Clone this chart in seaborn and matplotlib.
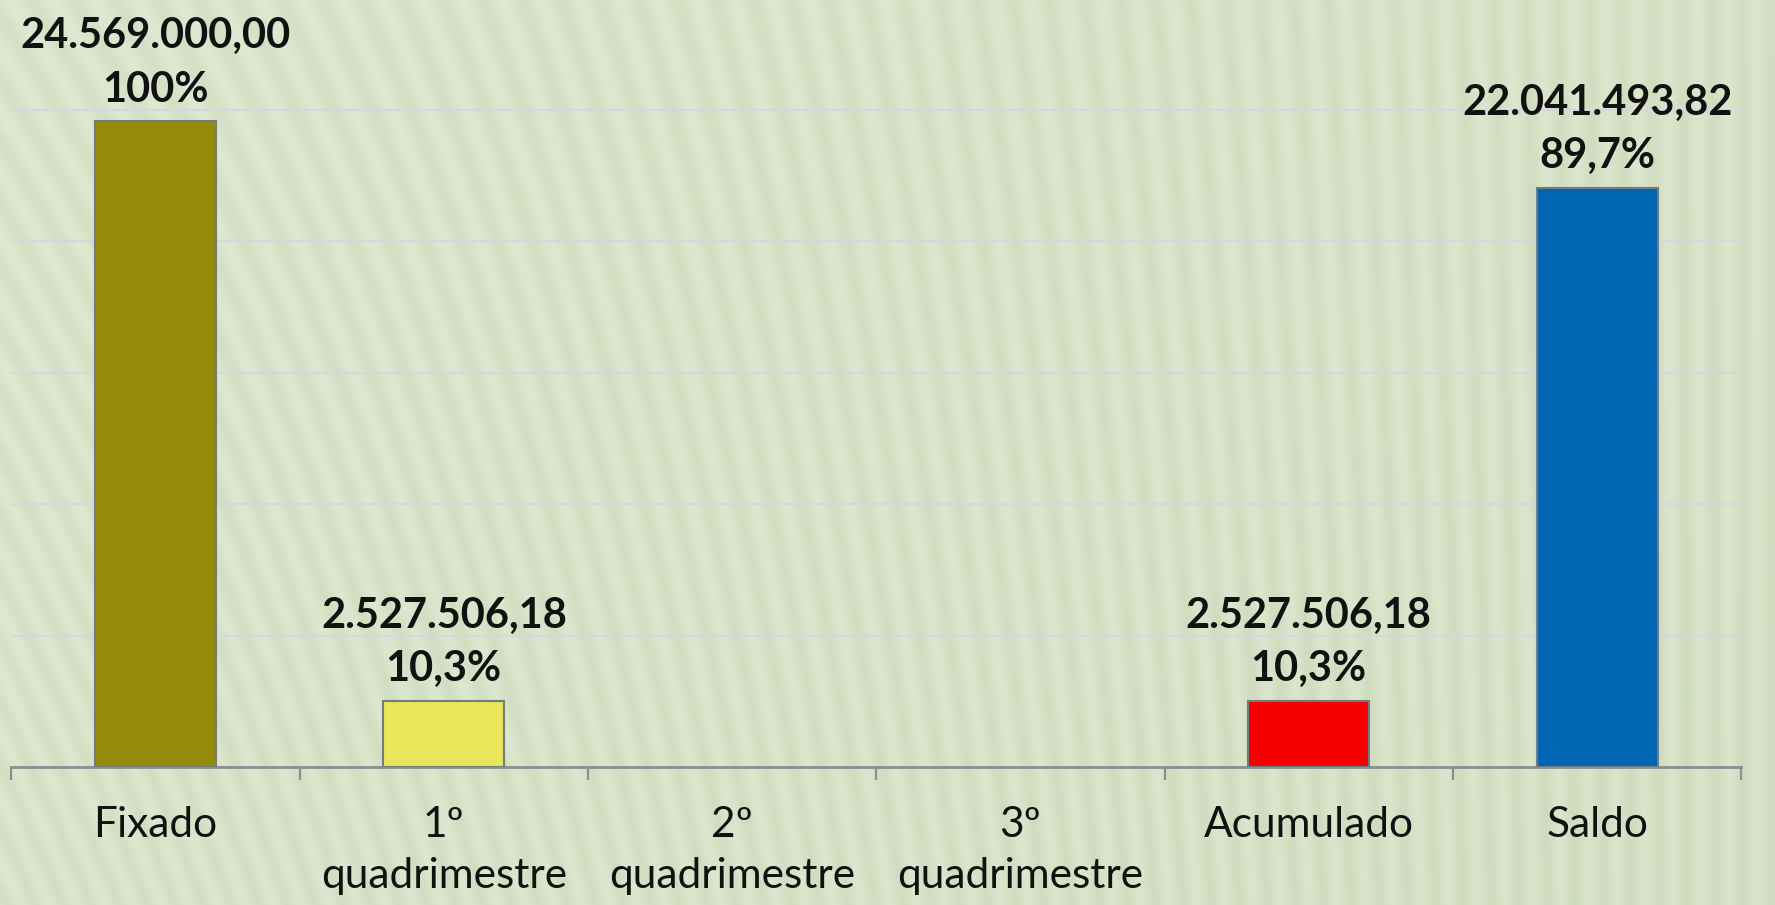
import matplotlib
matplotlib.use("Agg")
import matplotlib.pyplot as plt
import numpy as np
import pandas as pd
import seaborn as sns

categories = ["Fixado", "1º\nquadrimestre", "2º\nquadrimestre", "3º\nquadrimestre", "Acumulado", "Saldo"]
values = [24569000.00, 2527506.18, np.nan, np.nan, 2527506.18, 22041493.82]
bar_colors = ["#948b0b", "#ebe55b", "#c0c0c0", "#c0c0c0", "#f70000", "#0066b4"]

df = pd.DataFrame({"categoria": categories, "valor": values})

sns.set_theme(style="white")
plt.rcParams["font.family"] = ["Lato", "DejaVu Sans"]

fig = plt.figure(figsize=(17.75, 9.05), dpi=100)

# striped light green background
bg = fig.add_axes([0, 0, 1, 1], zorder=-10)
h, w = 905, 1775
yy, xx = np.mgrid[0:h, 0:w]
slant = 0.45 * (1 - xx / w) ** 1.5
phase = (xx + slant * (h - yy)) / 28.0 * 2 * np.pi
stripe = 0.5 + 0.5 * np.sin(phase)
light = np.array([0.89, 0.925, 0.84])
dark = np.array([0.80, 0.85, 0.73])
shade = 0.3 + 0.3 * (xx / w) + 0.15 * (yy / h)
mix = np.clip(stripe * 0.45 + shade * 0.55, 0, 1)[..., None]
img = light * (1 - mix) + dark * mix
bg.imshow(img, aspect="auto", extent=[0, 1, 0, 1])
bg.axis("off")

ax = fig.add_axes([0.0064, 0.1525, 0.9746, 0.8475])
ax.set_facecolor("none")

sns.barplot(
    data=df,
    x="categoria",
    y="valor",
    hue="categoria",
    order=categories,
    hue_order=categories,
    palette=dict(zip(categories, bar_colors)),
    saturation=1,
    width=0.42,
    edgecolor="#6f7d80",
    linewidth=1.5,
    legend=False,
    ax=ax,
    zorder=3,
)

ax.set_xlim(-0.5, len(categories) - 0.5)
ax.set_ylim(0, 29.19e6)
ax.set_yticks(np.arange(0, 30e6, 5e6))
ax.yaxis.grid(True, color="#d6d6e0", linewidth=1.6)
ax.set_axisbelow(True)
ax.tick_params(axis="y", left=False, labelleft=False)
ax.set_xlabel("")
ax.set_ylabel("")
for side in ["left", "right", "top"]:
    ax.spines[side].set_visible(False)
ax.spines["bottom"].set_color("#8a8f8f")
ax.spines["bottom"].set_linewidth(2)

# category boundary ticks
ax.set_xticks(np.arange(-0.5, len(categories), 1.0), minor=True)
ax.tick_params(axis="x", which="minor", bottom=True, direction="out", length=9,
               width=1.6, color="#8a8f8f")
ax.tick_params(axis="x", which="major", bottom=False, pad=22)
ax.set_xticks(range(len(categories)))
ax.set_xticklabels(categories, fontsize=30.5, color="#111111", linespacing=1.42)

total = values[0]
for i, v in enumerate(values):
    if np.isnan(v):
        continue
    num = f"{v:,.2f}".replace(",", "X").replace(".", ",").replace("X", ".")
    pct = v / total * 100
    pct_txt = "100%" if round(pct, 1) == 100 else f"{pct:.1f}".replace(".", ",") + "%"
    ax.annotate(f"{num}\n{pct_txt}", xy=(i, v), xytext=(0, 9), textcoords="offset points",
                ha="center", va="bottom", fontsize=30, fontweight="bold",
                color="#111111", linespacing=1.5, zorder=5, annotation_clip=False)

fig.savefig("out.png", dpi=100)
